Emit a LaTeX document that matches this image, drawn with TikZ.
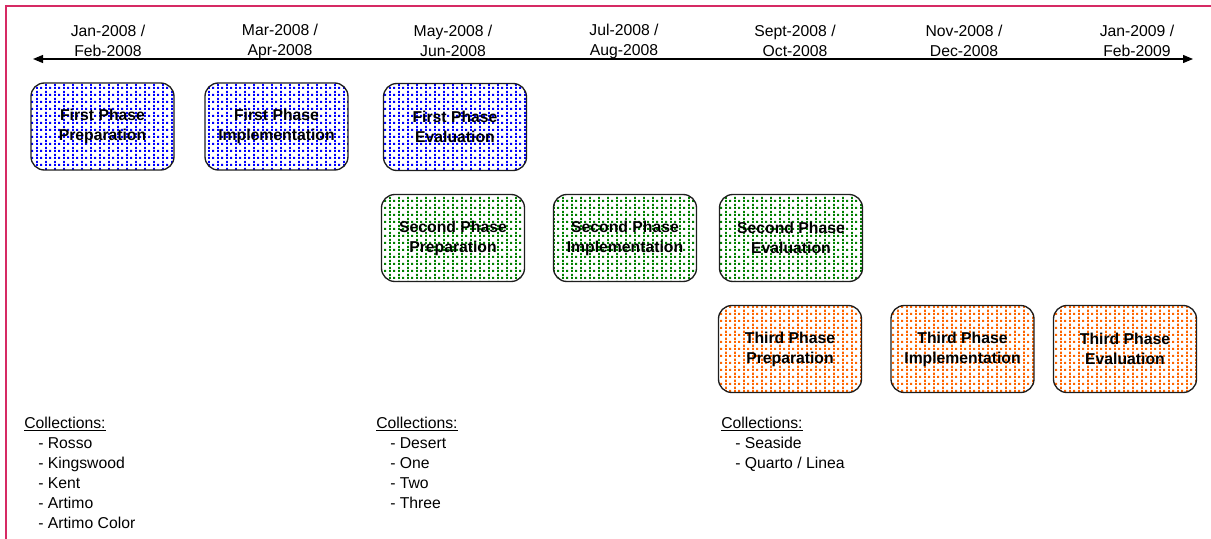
\documentclass[tikz,border=0pt]{standalone}
\usepackage{fontspec}
\setmainfont{Liberation Sans}
\usetikzlibrary{arrows.meta,patterns.meta}

% dotted grid fill for the phase boxes
\pgfdeclarepattern{
  name=dotgrid,
  type=uncolored,
  bottom left={\pgfpoint{0pt}{0pt}},
  top right={\pgfpoint{6.8pt}{5pt}},
  tile size={\pgfpoint{6.8pt}{5pt}},
  code={
    \pgfpathrectangle{\pgfpoint{0pt}{0pt}}{\pgfpoint{1.6pt}{1.6pt}}
    \pgfpathrectangle{\pgfpoint{3.4pt}{0pt}}{\pgfpoint{1.6pt}{1.6pt}}
    \pgfpathrectangle{\pgfpoint{0pt}{2.5pt}}{\pgfpoint{1.6pt}{1.6pt}}
    \pgfusepath{fill}
  }
}

\definecolor{framepink}{RGB}{214,42,100}
\definecolor{phaseblue}{RGB}{0,0,255}
\definecolor{phasegreen}{RGB}{0,128,0}
\definecolor{phaseorange}{RGB}{255,102,0}
\definecolor{boxedge}{RGB}{30,30,30}

\tikzset{
  txt/.style={font=\fontsize{11.8}{15}\selectfont, inner sep=0pt},
  datelabel/.style={txt, align=center},
  phasebox/.style={draw=boxedge, line width=1pt, rounded corners=10pt,
    minimum width=107.25pt, minimum height=65.25pt, inner sep=0pt,
    align=center, font=\fontsize{11.8}{15}\selectfont\bfseries,
    pattern=dotgrid},
  phaseone/.style={phasebox, pattern color=phaseblue},
  phasetwo/.style={phasebox, pattern color=phasegreen},
  phasethree/.style={phasebox, pattern color=phaseorange},
  collist/.style={txt, align=left, anchor=north west},
  timeline/.style={line width=0.9pt, {Triangle[length=7.5pt,width=6pt]}-{Triangle[length=7.5pt,width=6pt]}},
  frameline/.style={draw=framepink, line width=1.5pt}
}

\begin{document}
\begin{tikzpicture}[x=0.75pt, y=-0.75pt]
\useasboundingbox (0,0) rectangle (1211,539);

% page frame (top and left edges)
\draw[frameline] (1211,6) -- (6,6) -- (6,539);

% time axis
\coordinate (tl) at (33,59);
\coordinate (tr) at (1193,59);
\draw[timeline] (tl) -- (tr);

% period labels
\node[datelabel] (d1) at (108,41)    {Jan-2008 /\\Feb-2008};
\node[datelabel] (d2) at (280,41)    {Mar-2008 /\\Apr-2008};
\node[datelabel] (d3) at (453,41)    {May-2008 /\\Jun-2008};
\node[datelabel] (d4) at (624,41)    {Jul-2008 /\\Aug-2008};
\node[datelabel] (d5) at (795,41)    {Sept-2008 /\\Oct-2008};
\node[datelabel] (d6) at (964,41)    {Nov-2008 /\\Dec-2008};
\node[datelabel] (d7) at (1137,41)   {Jan-2009 /\\Feb-2009};

% first phase
\node[phaseone] (p1a) at (102.5,126.5) {First Phase\\Preparation};
\node[phaseone] (p1b) at (276.5,126.5) {First Phase\\Implementation};
\node[phaseone] (p1c) at (455,127)     {First Phase\\Evaluation};

% second phase
\node[phasetwo] (p2a) at (453,238)   {Second Phase\\Preparation};
\node[phasetwo] (p2b) at (625,238)   {Second Phase\\Implementation};
\node[phasetwo] (p2c) at (791,238)   {Second Phase\\Evaluation};

% third phase
\node[phasethree] (p3a) at (790,349)   {Third Phase\\Preparation};
\node[phasethree] (p3b) at (962.5,349) {Third Phase\\Implementation};
\node[phasethree] (p3c) at (1125,349)  {Third Phase\\Evaluation};

% collections per phase
\node[collist] (c1) at (24,417) {\underline{Collections:}\\
  \hspace*{10.5pt}- Rosso\\
  \hspace*{10.5pt}- Kingswood\\
  \hspace*{10.5pt}- Kent\\
  \hspace*{10.5pt}- Artimo\\
  \hspace*{10.5pt}- Artimo Color};
\node[collist] (c2) at (376,417) {\underline{Collections:}\\
  \hspace*{10.5pt}- Desert\\
  \hspace*{10.5pt}- One\\
  \hspace*{10.5pt}- Two\\
  \hspace*{10.5pt}- Three};
\node[collist] (c3) at (721,417) {\underline{Collections:}\\
  \hspace*{10.5pt}- Seaside\\
  \hspace*{10.5pt}- Quarto / Linea};
\end{tikzpicture}
\end{document}
